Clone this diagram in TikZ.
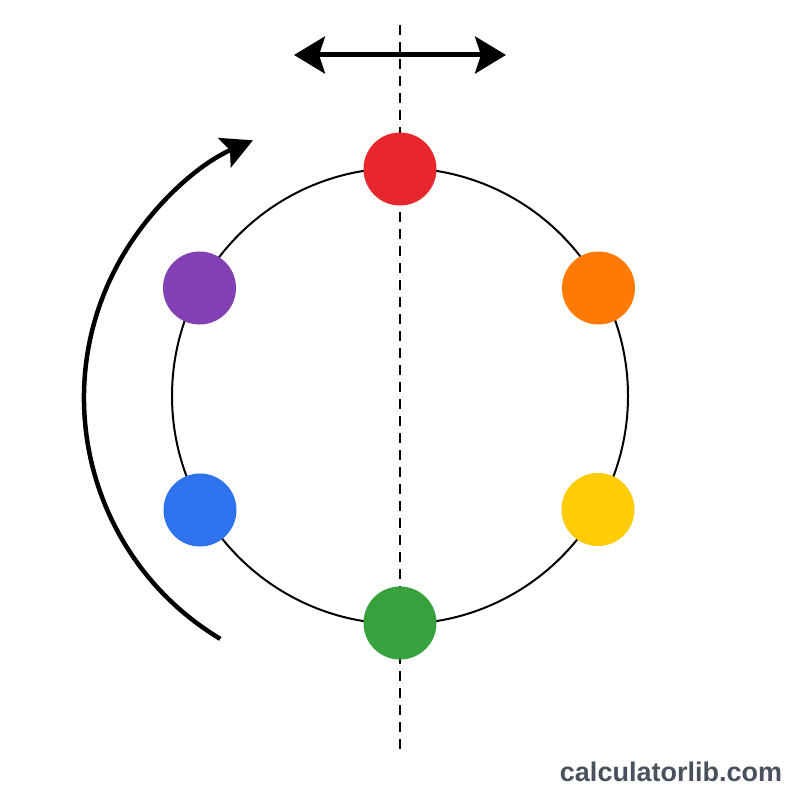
\documentclass[tikz,border=0pt]{standalone}
\usepackage{fontspec}
\setsansfont{Liberation Sans}
\usetikzlibrary{arrows.meta}

\definecolor{dotred}{HTML}{E8262E}
\definecolor{dotorange}{HTML}{FF7A05}
\definecolor{dotyellow}{HTML}{FFCC07}
\definecolor{dotgreen}{HTML}{37A23D}
\definecolor{dotblue}{HTML}{2E72EE}
\definecolor{dotpurple}{HTML}{8240B4}
\definecolor{brandgray}{HTML}{4A515E}

\tikzset{
  dot/.style={circle, inner sep=0pt, minimum size=73pt, fill=#1},
  bigtip/.tip={Stealth[length=31pt, width=32pt, inset=6pt]},
  fliptip/.tip={Stealth[length=31pt, width=37pt, inset=6pt]},
}

\begin{document}
\begin{tikzpicture}[x=1pt, y=-1pt]
    \useasboundingbox[fill=white] (0,0) rectangle (800,800);

    \coordinate (ring) at (400,396);
    \draw[line width=2pt] (ring) circle (228);

    % mirror axis
    \coordinate (axtop) at (400,25);
    \coordinate (axbot) at (400,752);
    \draw[line width=2pt, dash pattern=on 10pt off 7pt] (axtop) -- (axbot);

    % flip arrow
    \coordinate (flipL) at (294,55);
    \coordinate (flipR) at (506,55);
    \draw[line width=5pt, fliptip-fliptip] (flipL) -- (flipR);

    % beads
    \node[dot=dotred]    (red)    at (400,169) {};
    \node[dot=dotorange] (orange) at (598.5,288) {};
    \node[dot=dotyellow] (yellow) at (598,509.5) {};
    \node[dot=dotgreen]  (green)  at (400,623) {};
    \node[dot=dotblue]   (blue)   at (200,510) {};
    \node[dot=dotpurple] (purple) at (199.5,288) {};

    % rotation arrow
    \coordinate (turn) at (365,398);
    \draw[line width=4.5pt, -bigtip] ([shift={(121:281)}]turn) arc[start angle=121, end angle=246.5, radius=281];

    \node[font=\sffamily\bfseries\fontsize{27pt}{27pt}\selectfont, text=brandgray] (brand) at (671,772) {calculatorlib.com};
\end{tikzpicture}
\end{document}
